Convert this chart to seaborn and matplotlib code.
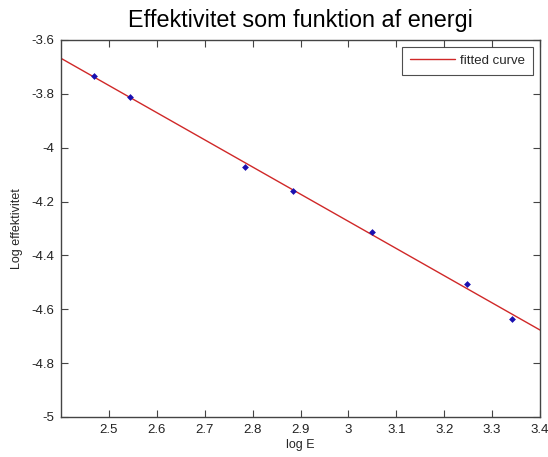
import matplotlib
matplotlib.use("Agg")
import matplotlib.pyplot as plt
import seaborn as sns
import pandas as pd

# measured points (log E, log efficiency)
log_e = [2.468, 2.544, 2.784, 2.885, 3.049, 3.247, 3.342]
log_eff = [-3.734, -3.812, -4.070, -4.161, -4.312, -4.505, -4.637]

# fitted line endpoints
fit_x = [2.4, 3.4]
fit_y = [-3.668, -4.677]

title = "Effektivitet som funktion af energi"
x_ticks = [2.5, 2.6, 2.7, 2.8, 2.9, 3.0, 3.1, 3.2, 3.3, 3.4]
x_tick_labels = ["2.5", "2.6", "2.7", "2.8", "2.9", "3", "3.1", "3.2", "3.3", "3.4"]
y_ticks = [-5.0, -4.8, -4.6, -4.4, -4.2, -4.0, -3.8, -3.6]
y_tick_labels = ["-5", "-4.8", "-4.6", "-4.4", "-4.2", "-4", "-3.8", "-3.6"]

sns.set_theme(style="white")
plt.rcParams['font.family'] = ['Liberation Sans', 'DejaVu Sans']

df_pts = pd.DataFrame({"x": log_e, "y": log_eff})
df_fit = pd.DataFrame({"x": fit_x, "y": fit_y})

fig = plt.figure(figsize=(5.48, 4.57), dpi=100)
ax = fig.add_axes([61 / 548, 1 - 417 / 457, 479 / 548, 377 / 457])

sns.scatterplot(data=df_pts, x="x", y="y", ax=ax, color="#1a10b0", marker="D",
                s=12, edgecolor="#1a10b0", linewidth=0, zorder=3)
sns.lineplot(data=df_fit, x="x", y="y", ax=ax, color="#d02828", linewidth=1.0,
             label="fitted curve", zorder=2)

ax.set_xlim(2.4, 3.4)
ax.set_ylim(-5, -3.6)
ax.set_xticks(x_ticks)
ax.set_xticklabels(x_tick_labels)
ax.set_yticks(y_ticks)
ax.set_yticklabels(y_tick_labels)
ax.set_xlabel("log E", fontsize=9, labelpad=2)
ax.set_ylabel("Log effektivitet", fontsize=9, labelpad=6)
ax.set_title(title, fontsize=16.8, pad=9, color="black")

for s in ax.spines.values():
    s.set_color("#444444")
    s.set_linewidth(1.0)
ax.tick_params(direction="in", length=5, width=0.8, color="#444444",
               labelsize=9.5, top=True, right=True, bottom=True, left=True,
               labelcolor="#222222", pad=5)

leg = ax.legend(loc="upper right", fontsize=9.5, frameon=True, fancybox=False,
                handlelength=3.4, handletextpad=0.4, borderpad=0.6,
                borderaxespad=0.5)
leg.get_frame().set_edgecolor("#222222")
leg.get_frame().set_linewidth(0.8)

fig.savefig("out.png", dpi=100)
